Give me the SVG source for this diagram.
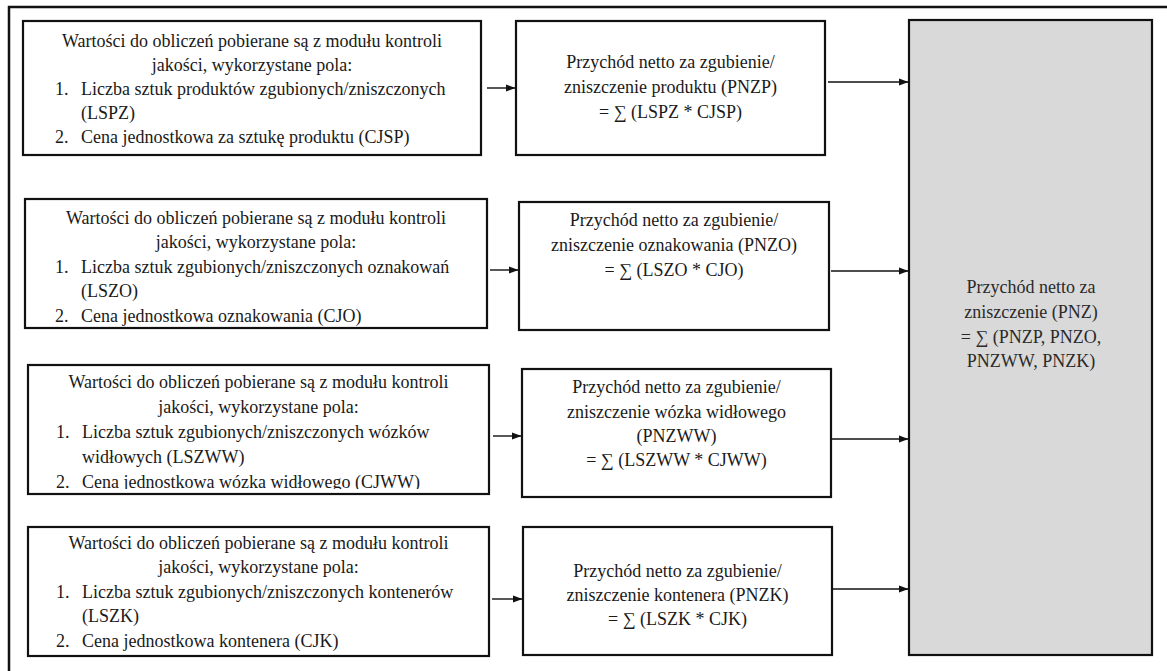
<svg xmlns="http://www.w3.org/2000/svg" width="1167" height="671" viewBox="0 0 1167 671">
  <style>
    .box { fill: #ffffff; stroke: #111111; stroke-width: 2.2; }
    .sum { fill: #d9d9d9; stroke: #111111; stroke-width: 2.2; }
    .frame { fill: none; stroke: #111111; stroke-width: 2.5; }
    .conn { stroke: #111111; stroke-width: 1.4; fill: none; marker-end: url(#arrow); }
    text { font-family: 'Liberation Serif', 'Times New Roman', serif; font-size: 18px; fill: #1a1a1a; }
    .c { text-anchor: middle; }
    .g { fill: #2a2a2a; }
  </style>
  <defs>
    <marker id="arrow" viewBox="0 0 10 8" refX="9.5" refY="4" markerWidth="10" markerHeight="8" markerUnits="userSpaceOnUse" orient="auto">
      <path d="M0,0.3 L10,4 L0,7.7 Z" fill="#111111"/>
    </marker>
    <clipPath id="clip-src2"><rect x="26" y="200" width="460" height="126"/></clipPath>
    <clipPath id="clip-src3"><rect x="29" y="366" width="459" height="123"/></clipPath>
  </defs>

  <rect width="1167" height="671" fill="#ffffff"/>

  <!-- outer frame: top and left edges -->
  <path class="frame" d="M9,672 L9,7 L1167,7"/>

  <!-- row 1: product -->
  <g id="src-product">
    <rect class="box" x="23" y="21" width="458" height="134"/>
    <text class="c" x="252" y="47">Wartości do obliczeń pobierane są z modułu kontroli</text>
    <text class="c" x="252" y="71">jakości, wykorzystane pola:</text>
    <text x="55" y="95">1.</text>
    <text x="81" y="95">Liczba sztuk produktów zgubionych/zniszczonych</text>
    <text x="81" y="119">(LSPZ)</text>
    <text x="55" y="143">2.</text>
    <text x="81" y="143">Cena jednostkowa za sztukę produktu (CJSP)</text>
  </g>
  <g id="calc-pnzp">
    <rect class="box" x="516" y="21" width="309" height="134"/>
    <text class="c" x="670.5" y="68">Przychód netto za zgubienie/</text>
    <text class="c" x="670.5" y="93">zniszczenie produktu (PNZP)</text>
    <text class="c" x="670.5" y="118">= ∑ (LSPZ * CJSP)</text>
  </g>

  <!-- row 2: labelling -->
  <g id="src-label">
    <rect class="box" x="25" y="199" width="462" height="129"/>
    <g clip-path="url(#clip-src2)">
      <text class="c" x="256" y="224">Wartości do obliczeń pobierane są z modułu kontroli</text>
      <text class="c" x="256" y="248">jakości, wykorzystane pola:</text>
      <text x="55" y="273">1.</text>
      <text x="81" y="273">Liczba sztuk zgubionych/zniszczonych oznakowań</text>
      <text x="81" y="297">(LSZO)</text>
      <text x="55" y="322">2.</text>
      <text x="81" y="322">Cena jednostkowa oznakowania (CJO)</text>
    </g>
  </g>
  <g id="calc-pnzo">
    <rect class="box" x="519" y="202" width="310" height="128"/>
    <text class="c" x="674" y="226">Przychód netto za zgubienie/</text>
    <text class="c" x="674" y="251">zniszczenie oznakowania (PNZO)</text>
    <text class="c" x="674" y="276">= ∑ (LSZO * CJO)</text>
  </g>

  <!-- row 3: forklift -->
  <g id="src-forklift">
    <rect class="box" x="28" y="365" width="461" height="129"/>
    <g clip-path="url(#clip-src3)">
      <text class="c" x="258.5" y="388">Wartości do obliczeń pobierane są z modułu kontroli</text>
      <text class="c" x="258.5" y="413">jakości, wykorzystane pola:</text>
      <text x="56" y="438">1.</text>
      <text x="82" y="438">Liczba sztuk zgubionych/zniszczonych wózków</text>
      <text x="82" y="463">widłowych (LSZWW)</text>
      <text x="56" y="488">2.</text>
      <text x="82" y="488">Cena jednostkowa wózka widłowego (CJWW)</text>
    </g>
  </g>
  <g id="calc-pnzww">
    <rect class="box" x="522" y="369" width="309" height="128"/>
    <text class="c" x="676.5" y="393">Przychód netto za zgubienie/</text>
    <text class="c" x="676.5" y="418">zniszczenie wózka widłowego</text>
    <text class="c" x="676.5" y="442">(PNZWW)</text>
    <text class="c" x="676.5" y="466">= ∑ (LSZWW * CJWW)</text>
  </g>

  <!-- row 4: container -->
  <g id="src-container">
    <rect class="box" x="28" y="527" width="461" height="129"/>
    <text class="c" x="258.5" y="549">Wartości do obliczeń pobierane są z modułu kontroli</text>
    <text class="c" x="258.5" y="573">jakości, wykorzystane pola:</text>
    <text x="56" y="598">1.</text>
    <text x="82" y="598">Liczba sztuk zgubionych/zniszczonych kontenerów</text>
    <text x="82" y="622">(LSZK)</text>
    <text x="56" y="647">2.</text>
    <text x="82" y="647">Cena jednostkowa kontenera (CJK)</text>
  </g>
  <g id="calc-pnzk">
    <rect class="box" x="523" y="527" width="309" height="128"/>
    <text class="c" x="677.5" y="577">Przychód netto za zgubienie/</text>
    <text class="c" x="677.5" y="601">zniszczenie kontenera (PNZK)</text>
    <text class="c" x="677.5" y="625">= ∑ (LSZK * CJK)</text>
  </g>

  <!-- total -->
  <g id="total-pnz">
    <rect class="sum" x="909" y="20" width="243" height="635"/>
    <text class="c g" x="1031" y="293">Przychód netto za</text>
    <text class="c g" x="1031" y="318">zniszczenie (PNZ)</text>
    <text class="c g" x="1031" y="343">= ∑ (PNZP, PNZO,</text>
    <text class="c g" x="1031" y="367">PNZWW, PNZK)</text>
  </g>

  <!-- connectors -->
  <g id="connectors">
    <line class="conn" x1="487" y1="88" x2="515" y2="88"/>
    <line class="conn" x1="828" y1="82" x2="908" y2="82"/>
    <line class="conn" x1="490" y1="270" x2="518" y2="270"/>
    <line class="conn" x1="831" y1="271" x2="908" y2="271"/>
    <line class="conn" x1="493" y1="436" x2="521" y2="436"/>
    <line class="conn" x1="832" y1="439" x2="908" y2="439"/>
    <line class="conn" x1="492" y1="599" x2="522" y2="599"/>
    <line class="conn" x1="833" y1="589" x2="908" y2="589"/>
  </g>
</svg>
